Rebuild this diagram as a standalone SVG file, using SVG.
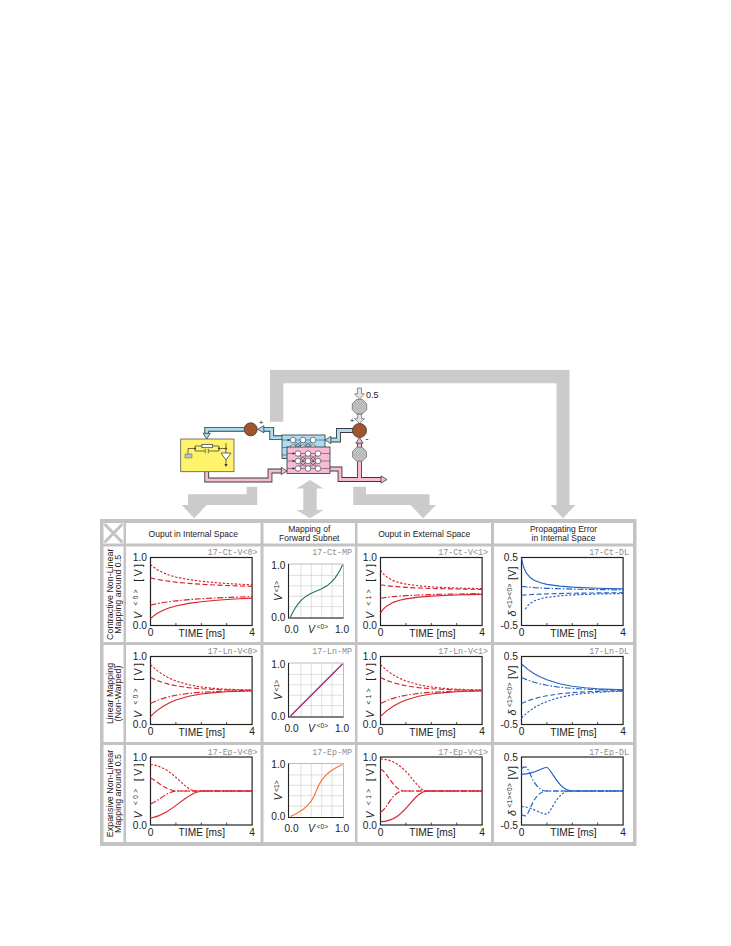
<svg xmlns="http://www.w3.org/2000/svg" xmlns:xlink="http://www.w3.org/1999/xlink" width="731" height="946" viewBox="0 0 731 946">
<defs>
<style>
.t{font-family:"Liberation Sans",Arial,Helvetica,sans-serif;fill:#222}
.tk{font-size:10.2px}
.hd{font-size:8.5px;text-anchor:middle}
.rh{font-size:8.9px;text-anchor:middle}
.tag{font-family:"Liberation Mono","Courier New",monospace;font-size:8.3px;fill:#8c8c8c;text-anchor:end}
.fr{fill:#fff;stroke:#222;stroke-width:1.2}
.cv{fill:none;stroke-width:1.15;stroke-linejoin:round}
.r{stroke:#d8232a}
.b{stroke:#2262c2}
.dt{stroke-dasharray:2.3 1.7}
.ld{stroke-dasharray:5 2.5}
.dd{stroke-dasharray:6 1.8 1.6 1.8}
.arr{fill:#cbcbcb}
.cell{fill:#fff}
.grid{stroke:#d2d2d2;stroke-width:0.7;fill:none}
.bo{fill:none;stroke:#3a3a3a;stroke-width:4.8}
.bb{fill:none;stroke:#aadcf4;stroke-width:3}
.pb{fill:none;stroke:#f6bcd4;stroke-width:3}
.hb{fill:#aadcf4;stroke:#3a3a3a;stroke-width:0.8}
.hp{fill:#f6bcd4;stroke:#3a3a3a;stroke-width:0.8}
.ha{fill:#e2e2e2;stroke:#777;stroke-width:0.8}
.mid{text-anchor:middle}
.end{text-anchor:end}
.nl{stroke:#2a2a3a;stroke-width:0.5;fill:none}
.nc{fill:#fff;stroke:#333;stroke-width:0.6}
.w{stroke:#333;stroke-width:0.7;fill:none}
</style>
<pattern id="hatch" width="2.6" height="2.6" patternUnits="userSpaceOnUse">
<rect width="2.6" height="2.6" fill="#d4d4d4"/>
<path d="M0,0L2.6,2.6M2.6,0L0,2.6" stroke="#8a8a8a" stroke-width="0.45"/>
</pattern>
<g id="tf">
<rect class="fr" width="101.6" height="68"/>
<path d="M25.4,68v-2.5M50.8,68v-2.5M76.2,68v-2.5" stroke="#222" stroke-width="0.8"/>
</g>
<g id="mf">
<rect width="55" height="54" fill="#fff" stroke="#aaa" stroke-width="0.8"/>
<path class="grid" d="M12.4,0V54M22.8,0V54M33.2,0V54M43.6,0V54M0,42.6H55M0,32.2H55M0,21.8H55M0,11.4H55"/>
<path d="M0,0V54H55" fill="none" stroke="#222" stroke-width="1.1"/>
</g>
<g id="r2c">
<path class="cv r dt" d="M0,8.16 L6.35,13.88 12.7,18.33 19.05,21.79 25.4,24.49 38.1,28.23 50.8,30.5 63.5,31.88 76.2,32.71 88.9,33.22 101.6,33.53"/>
<path class="cv r ld" d="M0,21.08 L6.35,23.94 12.7,26.16 19.05,27.9 25.4,29.25 38.1,31.12 50.8,32.25 63.5,32.94 76.2,33.36 88.9,33.61 101.6,33.76"/>
<path class="cv r dd" d="M0,46.92 L6.35,44.06 12.7,41.84 19.05,40.1 25.4,38.75 38.1,36.88 50.8,35.75 63.5,35.06 76.2,34.64 88.9,34.39 101.6,34.24"/>
<path class="cv r" d="M0,59.84 L6.35,54.12 12.7,49.67 19.05,46.21 25.4,43.51 38.1,39.77 50.8,37.5 63.5,36.12 76.2,35.29 88.9,34.78 101.6,34.47"/>
</g>
<g id="net">
<path class="nl" d="M0,6H8M0,13.5H8M0,21H8M33.8,6H43M33.8,13.5H43M33.8,21H43"/>
<path class="nl" d="M11,6L21,6M11,6L21,13.5M11,6L21,21M11,13.5L21,6M11,13.5L21,13.5M11,13.5L21,21M11,21L21,6M11,21L21,13.5M11,21L21,21M21,6L31,6M21,6L31,13.5M21,6L31,21M21,13.5L31,6M21,13.5L31,13.5M21,13.5L31,21M21,21L31,6M21,21L31,13.5M21,21L31,21"/>
<path d="M5.6,4.7L8.2,6L5.6,7.3ZM5.6,12.2L8.2,13.5L5.6,14.8ZM5.6,19.7L8.2,21L5.6,22.3Z" fill="#2a2a3a"/>
<circle class="nc" cx="11" cy="6" r="2.8"/><circle class="nc" cx="21" cy="6" r="2.8"/><circle class="nc" cx="31" cy="6" r="2.8"/>
<circle class="nc" cx="11" cy="13.5" r="2.8"/><circle class="nc" cx="21" cy="13.5" r="2.8"/><circle class="nc" cx="31" cy="13.5" r="2.8"/>
<circle class="nc" cx="11" cy="21" r="2.8"/><circle class="nc" cx="21" cy="21" r="2.8"/><circle class="nc" cx="31" cy="21" r="2.8"/>
</g>
</defs>

<rect width="731" height="946" fill="#fff"/>

<!-- connectors -->
<g id="connectors">
<polygon class="arr" points="270,421.7 270,370 569.5,370 569.5,505 575.5,505 563,518.3 550.5,505 556.5,505 556.5,383.3 283.3,383.3 283.3,421.7"/>
<polygon class="arr" points="246.7,486.7 257.3,486.7 257.3,505 206.7,505 194.2,518.3 181.7,505 188,505 188,494.3 246.7,494.3"/>
<polygon class="arr" points="310,480 323.5,488.5 316.7,488.5 316.7,510 323.5,510 310,518.3 296.5,510 303.3,510 303.3,488.5 296.5,488.5"/>
<polygon class="arr" points="353.3,486.7 366,486.7 366,494.3 429.5,494.3 429.5,505 436,505 423.2,518.3 410.5,505 353.3,505"/>

<path class="bo" d="M352.8,430.5H338.5V440H330.5"/>
<path class="bo" d="M282,437.7H271.7V429.3H263.5"/>
<path class="bo" d="M244.2,429.3H206.7V433.5"/>
<path class="bb" d="M352.8,430.5H338.5V440H330.5"/>
<path class="bb" d="M282,437.7H271.7V429.3H263.5"/>
<path class="bb" d="M244.2,429.3H206.7V433.5"/>
<polygon class="hb" points="330.8,436.4 325,440 330.8,443.6"/>
<polygon class="hb" points="263.8,425.7 257.8,429.3 263.8,432.9"/>
<polygon class="hb" points="203.1,433.3 206.7,439 210.3,433.3"/>

<path class="bo" d="M206.7,471.7V480H270V471H281.5"/>
<path class="bo" d="M330,469H340V479.5H381"/>
<path class="bo" d="M359.5,479.5V461.3"/>
<path class="bo" d="M359.5,447V443"/>
<path class="pb" d="M206.7,471.7V480H270V471H281.5"/>
<path class="pb" d="M330,469H340V479.5H381"/>
<path class="pb" d="M359.5,479.5V461.3"/>
<path class="pb" d="M359.5,447V443"/>
<polygon class="hp" points="281.3,467.4 287,471 281.3,474.6"/>
<polygon class="hp" points="381,475.9 387,479.5 381,483.1"/>
<polygon class="hp" points="355.9,443.2 359.5,437.6 363.1,443.2"/>

<polygon class="ha" points="357.4,388 361.6,388 361.6,393.8 364.4,393.8 359.5,399.2 354.6,393.8 357.4,393.8"/>
<polygon class="ha" points="357.4,414.2 361.6,414.2 361.6,418.6 364.4,418.6 359.5,423.6 354.6,418.6 357.4,418.6"/>
</g>

<!-- controller -->
<g id="node-controller">
<rect x="180.7" y="439" width="53.3" height="32.7" fill="#fff36b" stroke="#555" stroke-width="0.8"/>
<path class="w" d="M188,448.5H195M195,446V451H219V446H195M219,448.5H226M226,443V453M226,460V464.5M188,448.5V454"/>
<rect x="202" y="444.5" width="10.5" height="3.2" fill="#fff" stroke="#333" stroke-width="0.7"/>
<rect x="204.5" y="449" width="4.5" height="4" fill="#fff36b"/>
<path class="w" d="M205.2,448.8V453.2M208.3,448.8V453.2"/>
<rect x="185" y="454" width="7" height="4" fill="url(#hatch)" stroke="#444" stroke-width="0.4"/>
<polygon points="221,453 231,453 226,460" fill="#fff" stroke="#333" stroke-width="0.7"/>
<polygon points="224.4,464 227.6,464 226,467" fill="#333"/>
<circle cx="195" cy="448.5" r="0.9" fill="#333"/><circle cx="219" cy="448.5" r="0.9" fill="#333"/><circle cx="226" cy="448.5" r="0.9" fill="#333"/>
</g>

<g id="node-sum-left">
<circle cx="250.7" cy="429.3" r="6.5" fill="#a0552e" stroke="#333" stroke-width="0.8"/>
<text class="t" x="261" y="424.5" font-size="8" text-anchor="middle">+</text>
</g>

<g id="node-network">
<rect x="282" y="435" width="43" height="23.5" fill="#aadcf4" stroke="#333" stroke-width="0.8"/>
<use xlink:href="#net" href="#net" transform="translate(282,434)"/>
<rect x="287" y="447" width="43" height="26.5" fill="#f6bcd4" stroke="#333" stroke-width="0.8"/>
<use xlink:href="#net" href="#net" transform="translate(287,447.5)"/>
</g>

<g id="node-target">
<polygon points="362.49,399.5 366.7,403.71 366.7,409.69 362.49,413.9 356.51,413.9 352.3,409.69 352.3,403.71 356.51,399.5" fill="url(#hatch)" stroke="#666" stroke-width="0.7"/>
<text class="t" x="366" y="397.5" font-size="9">0.5</text>
</g>

<g id="node-sum-right">
<circle cx="359.5" cy="430.5" r="7" fill="#a0552e" stroke="#333" stroke-width="0.8"/>
<text class="t" x="352" y="423" font-size="8" text-anchor="middle">+</text>
<text class="t" x="367" y="442" font-size="9" text-anchor="middle">-</text>
</g>

<g id="node-output-transform">
<polygon points="362.37,447.27 366.43,451.33 366.43,457.07 362.37,461.13 356.63,461.13 352.57,457.07 352.57,451.33 356.63,447.27" fill="url(#hatch)" stroke="#666" stroke-width="0.7"/>
</g>

<!-- table -->
<g id="table">
<rect x="100" y="519" width="536.5" height="327" fill="#c3c3c3"/>
<rect class="cell" x="103.5" y="523" width="20" height="20.5"/>
<path d="M104.5,524L122.5,542.5M122.5,524L104.5,542.5" stroke="#c3c3c3" stroke-width="3"/>
<rect class="cell" x="126" y="523" width="134.5" height="20.5"/>
<rect class="cell" x="263.5" y="523" width="91.5" height="20.5"/>
<rect class="cell" x="357.5" y="523" width="133.5" height="20.5"/>
<rect class="cell" x="494" y="523" width="139" height="20.5"/>
<rect class="cell" x="103.5" y="546.5" width="20" height="95.5"/>
<rect class="cell" x="126" y="546.5" width="134.5" height="95.5"/>
<rect class="cell" x="263.5" y="546.5" width="91.5" height="95.5"/>
<rect class="cell" x="357.5" y="546.5" width="133.5" height="95.5"/>
<rect class="cell" x="494" y="546.5" width="139" height="95.5"/>
<rect class="cell" x="103.5" y="645" width="20" height="97"/>
<rect class="cell" x="126" y="645" width="134.5" height="97"/>
<rect class="cell" x="263.5" y="645" width="91.5" height="97"/>
<rect class="cell" x="357.5" y="645" width="133.5" height="97"/>
<rect class="cell" x="494" y="645" width="139" height="97"/>
<rect class="cell" x="103.5" y="745" width="20" height="97"/>
<rect class="cell" x="126" y="745" width="134.5" height="97"/>
<rect class="cell" x="263.5" y="745" width="91.5" height="97"/>
<rect class="cell" x="357.5" y="745" width="133.5" height="97"/>
<rect class="cell" x="494" y="745" width="139" height="97"/>
<text class="t hd" x="193.25" y="537">Ouput in Internal Space</text>
<text class="t hd" x="309.25" y="531.8">Mapping of</text>
<text class="t hd" x="309.25" y="541">Forward Subnet</text>
<text class="t hd" x="424.25" y="537">Ouput in External Space</text>
<text class="t hd" x="563.5" y="531.8">Propagating Error</text>
<text class="t hd" x="563.5" y="541">in Internal Space</text>
<text class="t rh" transform="translate(112.5,594.3) rotate(-90)">Contractive Non-Linear</text>
<text class="t rh" transform="translate(120.5,594.3) rotate(-90)">Mapping around 0.5</text>
<text class="t rh" transform="translate(112.5,693.5) rotate(-90)">Linear Mapping</text>
<text class="t rh" transform="translate(120.5,693.5) rotate(-90)">(Non-Warped)</text>
<text class="t rh" transform="translate(112.5,793.5) rotate(-90)">Expansive Non-Linear</text>
<text class="t rh" transform="translate(120.5,793.5) rotate(-90)">Mapping around 0.5</text>
</g>

<!-- Row 1 -->
<g id="plot-ct-v0" transform="translate(150.5,557.5)">
<use xlink:href="#tf" href="#tf"/>
<path class="cv r dt" d="M0,6.8 L2.54,9.16 6.35,11.95 12.7,15.33 19.05,17.72 25.4,19.52 38.1,22.07 50.8,23.78 63.5,25.02 76.2,25.98 88.9,26.72 101.6,27.34"/>
<path class="cv r ld" d="M0,20.4 L6.35,21.83 12.7,22.98 25.4,24.68 38.1,25.86 50.8,26.79 63.5,27.47 76.2,28.03 88.9,28.5 101.6,28.9"/>
<path class="cv r dd" d="M0,47.6 L6.35,46.17 12.7,45.02 25.4,43.32 38.1,42.14 50.8,41.21 63.5,40.53 76.2,39.97 88.9,39.5 101.6,39.1"/>
<path class="cv r" d="M0,61.2 L2.54,58.84 6.35,56.05 12.7,52.67 19.05,50.28 25.4,48.48 38.1,45.93 50.8,44.22 63.5,42.98 76.2,42.02 88.9,41.28 101.6,40.66"/>
<text class="t tk end" x="-3.5" y="3.8">1.0</text>
<text class="t tk end" x="-3.5" y="71.8">0.0</text>
<text class="t tk mid" x="0" y="78.8">0</text>
<text class="t tk mid" x="101.6" y="78.8">4</text>
<text class="t tk mid" x="51.3" y="79">TIME [ms]</text>
<text class="tag" x="107" y="-2.5">17-Ct-V&lt;0&gt;</text>
<text class="t mid" font-size="10.5" transform="translate(-9,34) rotate(-90)" textLength="55" lengthAdjust="spacing"><tspan font-style="italic">V</tspan><tspan font-size="6.5" dy="-3.5"> &lt;0&gt;</tspan><tspan dy="3.5"> [V]</tspan></text>
</g>

<g id="plot-ct-mp" transform="translate(288.5,564)">
<use xlink:href="#mf" href="#mf"/>
<path class="cv" stroke="#1b7a62" d="M2,53 L4.6,47.73 7.2,43.31 9.8,39.63 12.4,36.61 17.6,32.16 22.8,29.2 28,27 33.2,24.8 38.4,21.84 43.6,17.39 46.2,14.37 48.8,10.69 51.4,6.27 54,1"/>
<text class="t tk end" x="-3" y="4.6">1.0</text>
<text class="t tk end" x="-3" y="56.6">0.0</text>
<text class="t tk mid" x="3" y="68.5">0.0</text>
<text class="t tk mid" x="53.5" y="68.5">1.0</text>
<text class="t mid" font-size="10.5" x="29.5" y="68.5"><tspan font-style="italic">V</tspan><tspan font-size="6.5" dy="-3.5"> &lt;0&gt;</tspan></text>
<text class="t mid" font-size="10.5" transform="translate(-6.5,27) rotate(-90)"><tspan font-style="italic">V</tspan><tspan font-size="6.5" dy="-3.5"> &lt;1&gt;</tspan></text>
<text class="tag" x="63.5" y="-9">17-Ct-MP</text>
</g>

<g id="plot-ct-v1" transform="translate(380.5,557.5)">
<use xlink:href="#tf" href="#tf"/>
<path class="cv r dt" d="M0,12.68 L2.54,16.11 6.35,19.61 12.7,23.15 19.05,25.25 25.4,26.63 38.1,28.34 50.8,29.36 63.5,30.04 76.2,30.53 88.9,30.89 101.6,31.18"/>
<path class="cv r ld" d="M0,27.25 L6.35,28.19 12.7,28.9 25.4,29.85 38.1,30.46 50.8,30.92 63.5,31.25 76.2,31.5 88.9,31.71 101.6,31.89"/>
<path class="cv r dd" d="M0,40.75 L6.35,39.81 12.7,39.1 25.4,38.15 38.1,37.54 50.8,37.08 63.5,36.75 76.2,36.5 88.9,36.29 101.6,36.11"/>
<path class="cv r" d="M0,55.32 L2.54,51.89 6.35,48.39 12.7,44.85 19.05,42.75 25.4,41.37 38.1,39.66 50.8,38.64 63.5,37.96 76.2,37.47 88.9,37.11 101.6,36.82"/>
<text class="t tk end" x="-3.5" y="3.8">1.0</text>
<text class="t tk end" x="-3.5" y="71.8">0.0</text>
<text class="t tk mid" x="0" y="78.8">0</text>
<text class="t tk mid" x="101.6" y="78.8">4</text>
<text class="t tk mid" x="52" y="79">TIME [ms]</text>
<text class="tag" x="107.5" y="-2.5">17-Ct-V&lt;1&gt;</text>
<text class="t mid" font-size="10.5" transform="translate(-6.5,34) rotate(-90)" textLength="55" lengthAdjust="spacing"><tspan font-style="italic">V</tspan><tspan font-size="6.5" dy="-3.5"> &lt;1&gt;</tspan><tspan dy="3.5"> [V]</tspan></text>
</g>

<g id="plot-ct-dl" transform="translate(521.5,557.5)">
<use xlink:href="#tf" href="#tf"/>
<path class="cv b dt" d="M3.81,51.73 L6.35,48.04 8.89,45.7 12.7,43.42 19.05,41.19 25.4,39.85 38.1,38.32 50.8,37.45 76.2,36.51 101.6,35.99"/>
<path class="cv b ld" d="M0,37.74 L12.7,36.86 25.4,36.34 50.8,35.74 76.2,35.41 101.6,35.19"/>
<path class="cv b dd" d="M0,28.9 L12.7,30.1 25.4,30.81 50.8,31.63 76.2,32.08 101.6,32.38"/>
<path class="cv b" d="M0,0.3 L1.27,6.44 2.54,10.66 5.08,15.9 8.89,20.24 12.7,22.78 19.05,25.31 25.4,26.83 38.1,28.61 50.8,29.63 76.2,30.78 101.6,31.41"/>
<text class="t tk end" x="-3.5" y="3.8">0.5</text>
<text class="t tk end" x="-3.5" y="71.8">-0.5</text>
<text class="t tk mid" x="0" y="78.8">0</text>
<text class="t tk mid" x="101.6" y="78.8">4</text>
<text class="t tk mid" x="52" y="79">TIME [ms]</text>
<text class="tag" x="107.5" y="-2.5">17-Ct-DL</text>
<text class="t mid" font-size="10.5" transform="translate(-6,34) rotate(-90)" textLength="50" lengthAdjust="spacing"><tspan font-style="italic">δ</tspan><tspan font-size="6.5" dy="-3.5"> &lt;1&gt;&lt;0&gt;</tspan><tspan dy="3.5"> [V]</tspan></text>
</g>

<!-- Row 2 -->
<g id="plot-ln-v0" transform="translate(150.5,656.5)">
<use xlink:href="#tf" href="#tf"/>
<use xlink:href="#r2c" href="#r2c"/>
<text class="t tk end" x="-3.5" y="3.8">1.0</text>
<text class="t tk end" x="-3.5" y="71.8">0.0</text>
<text class="t tk mid" x="0" y="78.8">0</text>
<text class="t tk mid" x="101.6" y="78.8">4</text>
<text class="t tk mid" x="51.3" y="79">TIME [ms]</text>
<text class="tag" x="107" y="-2.5">17-Ln-V&lt;0&gt;</text>
<text class="t mid" font-size="10.5" transform="translate(-9,34) rotate(-90)" textLength="55" lengthAdjust="spacing"><tspan font-style="italic">V</tspan><tspan font-size="6.5" dy="-3.5"> &lt;0&gt;</tspan><tspan dy="3.5"> [V]</tspan></text>
</g>

<g id="plot-ln-mp" transform="translate(288.5,663)">
<use xlink:href="#mf" href="#mf"/>
<path class="cv" stroke="#9b1f6e" d="M2,53 L54,1"/>
<text class="t tk end" x="-3" y="4.6">1.0</text>
<text class="t tk end" x="-3" y="56.6">0.0</text>
<text class="t tk mid" x="3" y="68.5">0.0</text>
<text class="t tk mid" x="53.5" y="68.5">1.0</text>
<text class="t mid" font-size="10.5" x="29.5" y="68.5"><tspan font-style="italic">V</tspan><tspan font-size="6.5" dy="-3.5"> &lt;0&gt;</tspan></text>
<text class="t mid" font-size="10.5" transform="translate(-6.5,27) rotate(-90)"><tspan font-style="italic">V</tspan><tspan font-size="6.5" dy="-3.5"> &lt;1&gt;</tspan></text>
<text class="tag" x="63.5" y="-9">17-Ln-MP</text>
</g>

<g id="plot-ln-v1" transform="translate(380.5,656.5)">
<use xlink:href="#tf" href="#tf"/>
<use xlink:href="#r2c" href="#r2c"/>
<text class="t tk end" x="-3.5" y="3.8">1.0</text>
<text class="t tk end" x="-3.5" y="71.8">0.0</text>
<text class="t tk mid" x="0" y="78.8">0</text>
<text class="t tk mid" x="101.6" y="78.8">4</text>
<text class="t tk mid" x="52" y="79">TIME [ms]</text>
<text class="tag" x="107.5" y="-2.5">17-Ln-V&lt;1&gt;</text>
<text class="t mid" font-size="10.5" transform="translate(-6.5,34) rotate(-90)" textLength="55" lengthAdjust="spacing"><tspan font-style="italic">V</tspan><tspan font-size="6.5" dy="-3.5"> &lt;1&gt;</tspan><tspan dy="3.5"> [V]</tspan></text>
</g>

<g id="plot-ln-dl" transform="translate(521.5,656.5)">
<use xlink:href="#tf" href="#tf"/>
<path class="cv b dt" d="M0,61.2 L6.35,55.67 12.7,51.27 19.05,47.76 25.4,44.96 38.1,40.96 50.8,38.41 63.5,36.8 76.2,35.78 88.9,35.13 101.6,34.72"/>
<path class="cv b ld" d="M0,46.92 L6.35,44.29 12.7,42.2 19.05,40.53 25.4,39.21 38.1,37.3 50.8,36.1 63.5,35.33 76.2,34.84 88.9,34.54 101.6,34.34"/>
<path class="cv b dd" d="M0,21.08 L6.35,23.71 12.7,25.8 19.05,27.47 25.4,28.79 38.1,30.7 50.8,31.9 63.5,32.67 76.2,33.16 88.9,33.46 101.6,33.66"/>
<path class="cv b" d="M0,7.48 L6.35,12.87 12.7,17.17 19.05,20.59 25.4,23.32 38.1,27.22 50.8,29.7 63.5,31.27 76.2,32.27 88.9,32.9 101.6,33.3"/>
<text class="t tk end" x="-3.5" y="3.8">0.5</text>
<text class="t tk end" x="-3.5" y="71.8">-0.5</text>
<text class="t tk mid" x="0" y="78.8">0</text>
<text class="t tk mid" x="101.6" y="78.8">4</text>
<text class="t tk mid" x="52" y="79">TIME [ms]</text>
<text class="tag" x="107.5" y="-2.5">17-Ln-DL</text>
<text class="t mid" font-size="10.5" transform="translate(-6,34) rotate(-90)" textLength="50" lengthAdjust="spacing"><tspan font-style="italic">δ</tspan><tspan font-size="6.5" dy="-3.5"> &lt;1&gt;&lt;0&gt;</tspan><tspan dy="3.5"> [V]</tspan></text>
</g>

<!-- Row 3 -->
<g id="plot-ep-v0" transform="translate(150.5,757)">
<use xlink:href="#tf" href="#tf"/>
<path class="cv r dt" d="M0,7.48 C22.86,9.52 33.02,34 45.72,34 L101.6,34"/>
<path class="cv r ld" d="M0,21.08 C7.62,24.48 15.24,34 27.94,34 L101.6,34"/>
<path class="cv r dd" d="M0,46.92 C8.89,44.2 15.24,34 27.94,34 L101.6,34"/>
<path class="cv r" d="M0,61.2 C22.86,57.12 35.56,34 53.34,34 L101.6,34"/>
<text class="t tk end" x="-3.5" y="3.8">1.0</text>
<text class="t tk end" x="-3.5" y="71.8">0.0</text>
<text class="t tk mid" x="0" y="78.8">0</text>
<text class="t tk mid" x="101.6" y="78.8">4</text>
<text class="t tk mid" x="51.3" y="79">TIME [ms]</text>
<text class="tag" x="107" y="-2.5">17-Ep-V&lt;0&gt;</text>
<text class="t mid" font-size="10.5" transform="translate(-9,34) rotate(-90)" textLength="55" lengthAdjust="spacing"><tspan font-style="italic">V</tspan><tspan font-size="6.5" dy="-3.5"> &lt;0&gt;</tspan><tspan dy="3.5"> [V]</tspan></text>
</g>

<g id="plot-ep-mp" transform="translate(288.5,763.5)">
<use xlink:href="#mf" href="#mf"/>
<path class="cv" stroke="#f2773a" d="M2,53 L7.27,50.4 11.69,47.8 15.37,45.2 18.39,42.6 22.84,37.4 25.8,32.2 28,27 30.2,21.8 33.16,16.6 37.61,11.4 40.63,8.8 44.31,6.2 48.73,3.6 54,1"/>
<text class="t tk end" x="-3" y="4.6">1.0</text>
<text class="t tk end" x="-3" y="56.6">0.0</text>
<text class="t tk mid" x="3" y="68.5">0.0</text>
<text class="t tk mid" x="53.5" y="68.5">1.0</text>
<text class="t mid" font-size="10.5" x="29.5" y="68.5"><tspan font-style="italic">V</tspan><tspan font-size="6.5" dy="-3.5"> &lt;0&gt;</tspan></text>
<text class="t mid" font-size="10.5" transform="translate(-6.5,27) rotate(-90)"><tspan font-style="italic">V</tspan><tspan font-size="6.5" dy="-3.5"> &lt;1&gt;</tspan></text>
<text class="tag" x="63.5" y="-9">17-Ep-MP</text>
</g>

<g id="plot-ep-v1" transform="translate(380.5,757)">
<use xlink:href="#tf" href="#tf"/>
<path class="cv r dt" d="M0,2.04 C25.4,2.04 35.56,34 45.72,34 L101.6,34"/>
<path class="cv r ld" d="M0,12.24 C7.62,14.96 12.7,34 24.13,34 L101.6,34"/>
<path class="cv r dd" d="M0,55.08 C6.35,53.04 11.43,34 22.86,34 L101.6,34"/>
<path class="cv r" d="M0,64.6 C25.4,64.6 31.75,34 46.99,34 L101.6,34"/>
<text class="t tk end" x="-3.5" y="3.8">1.0</text>
<text class="t tk end" x="-3.5" y="71.8">0.0</text>
<text class="t tk mid" x="0" y="78.8">0</text>
<text class="t tk mid" x="101.6" y="78.8">4</text>
<text class="t tk mid" x="52" y="79">TIME [ms]</text>
<text class="tag" x="107.5" y="-2.5">17-Ep-V&lt;1&gt;</text>
<text class="t mid" font-size="10.5" transform="translate(-6.5,34) rotate(-90)" textLength="55" lengthAdjust="spacing"><tspan font-style="italic">V</tspan><tspan font-size="6.5" dy="-3.5"> &lt;1&gt;</tspan><tspan dy="3.5"> [V]</tspan></text>
</g>

<g id="plot-ep-dl" transform="translate(521.5,757)">
<use xlink:href="#tf" href="#tf"/>
<path class="cv b dt" d="M0,49.64 C10.16,49.64 19.05,57.12 25.15,57.12 C29.21,57.12 35.56,34 48.26,34 L101.6,34"/>
<path class="cv b ld" d="M0,57.12 C1.27,58.5 2.54,58.82 3.81,58.82 C8.13,58.82 10.67,36.04 24.13,34 L101.6,34"/>
<path class="cv b dd" d="M0,11.9 C1.27,10.2 2.54,9.86 3.81,9.86 C8.13,9.86 10.67,31.96 24.13,34 L101.6,34"/>
<path class="cv b" d="M0,17.34 C13.97,17 21.59,10.2 25.15,10.2 C29.21,10.2 36.83,34 50.8,34 L101.6,34"/>
<text class="t tk end" x="-3.5" y="3.8">0.5</text>
<text class="t tk end" x="-3.5" y="71.8">-0.5</text>
<text class="t tk mid" x="0" y="78.8">0</text>
<text class="t tk mid" x="101.6" y="78.8">4</text>
<text class="t tk mid" x="52" y="79">TIME [ms]</text>
<text class="tag" x="107.5" y="-2.5">17-Ep-DL</text>
<text class="t mid" font-size="10.5" transform="translate(-6,34) rotate(-90)" textLength="50" lengthAdjust="spacing"><tspan font-style="italic">δ</tspan><tspan font-size="6.5" dy="-3.5"> &lt;1&gt;&lt;0&gt;</tspan><tspan dy="3.5"> [V]</tspan></text>
</g>
</svg>
